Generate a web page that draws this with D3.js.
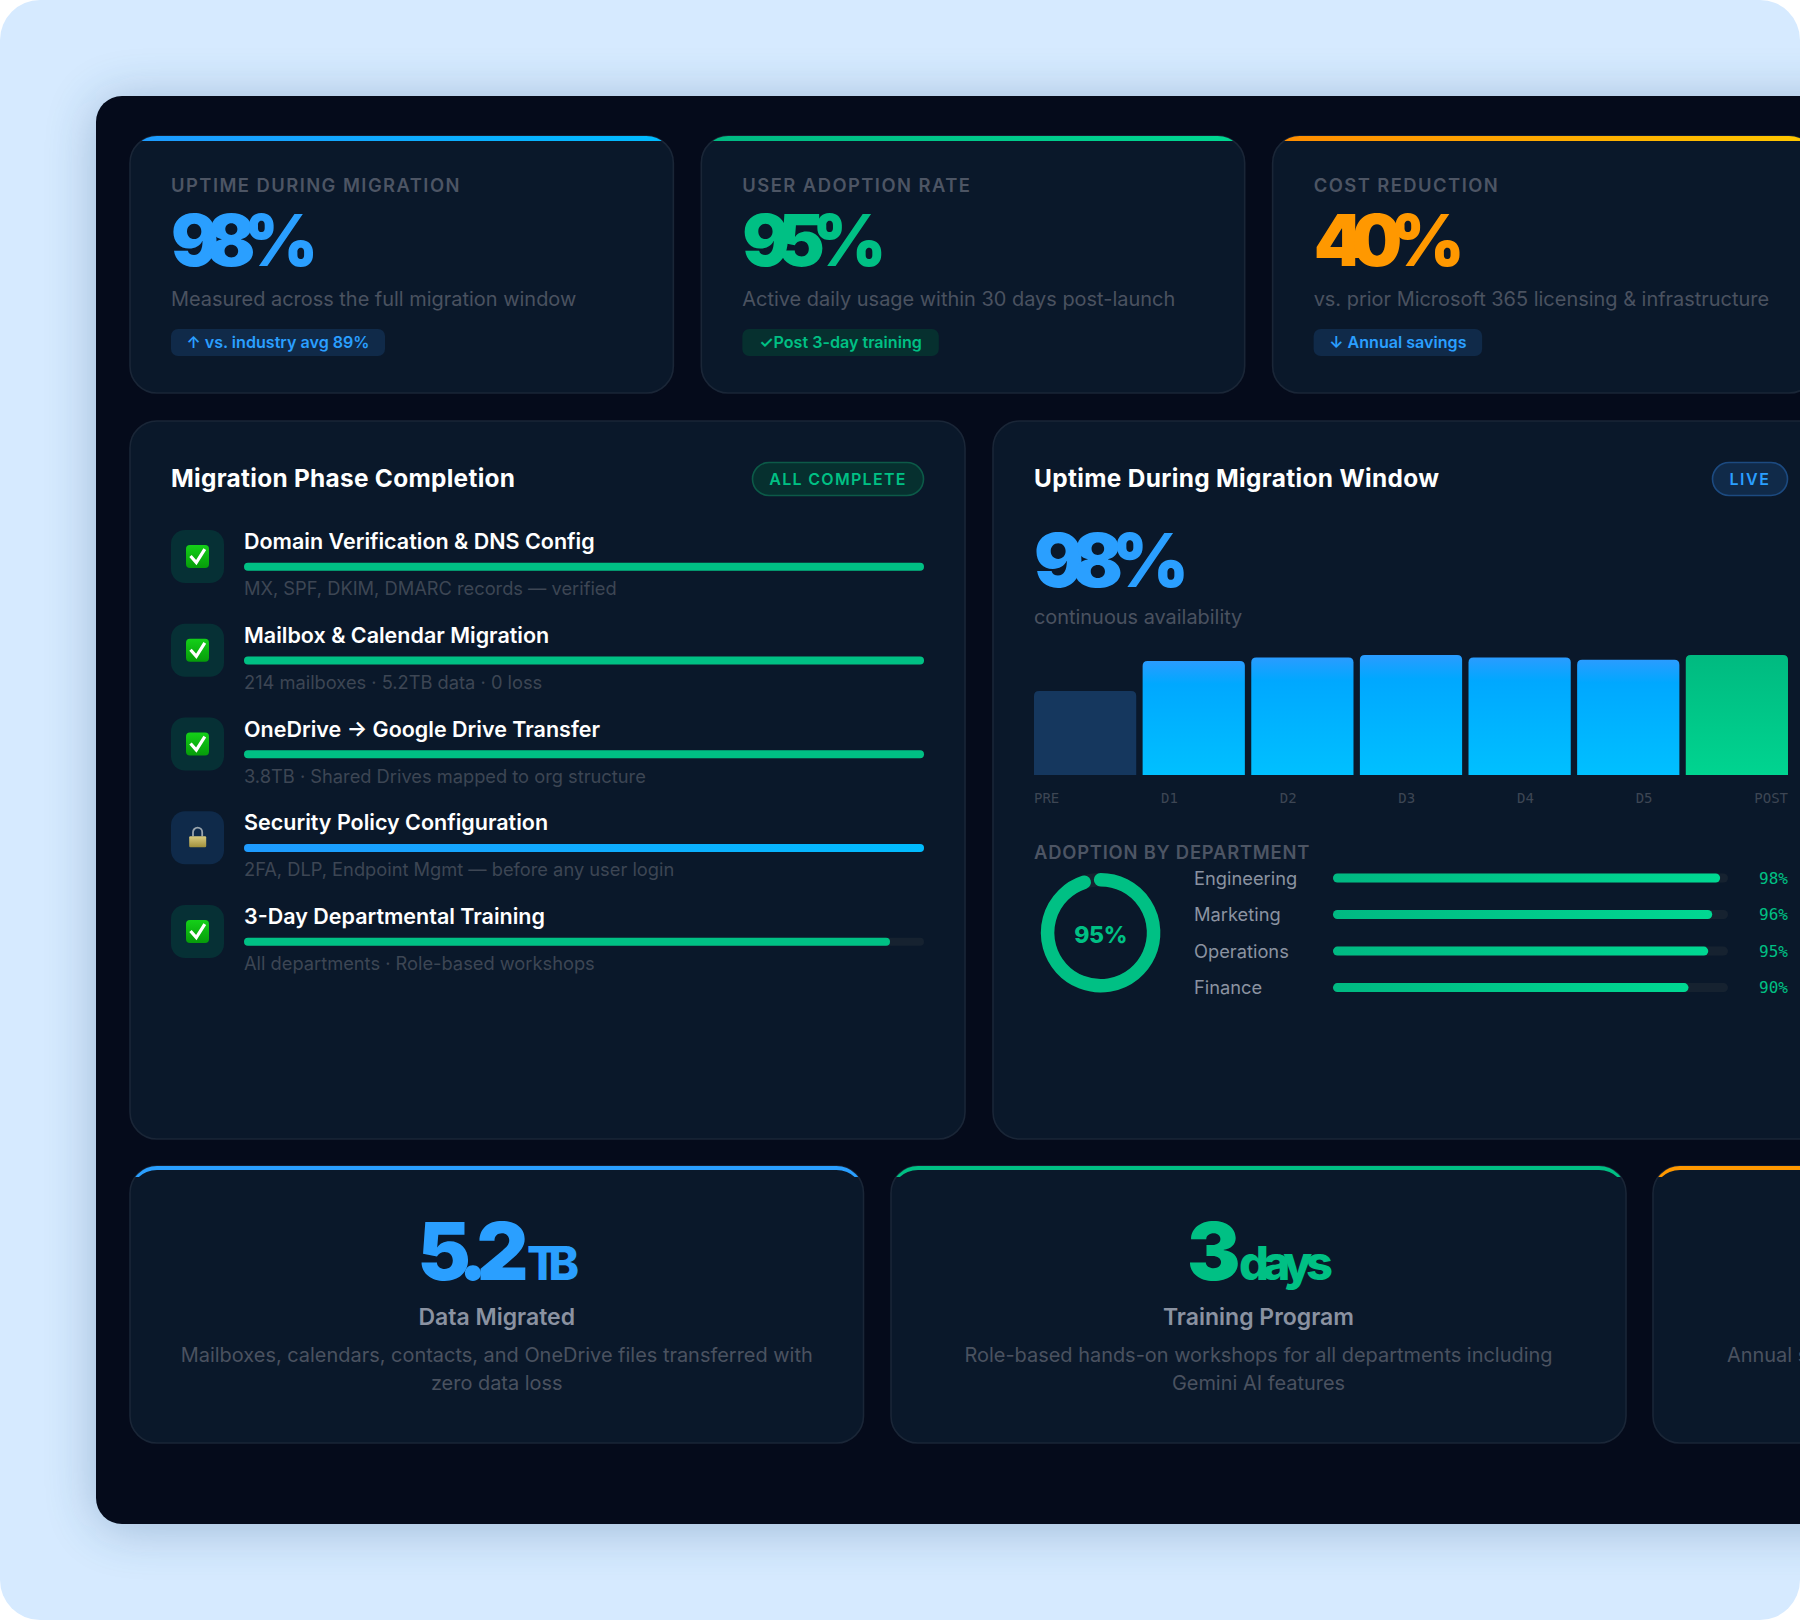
<!DOCTYPE html>
<html><head><meta charset="utf-8">
<script src="https://cdn.jsdelivr.net/npm/d3@7/dist/d3.min.js"></script>
<style>
html,body{margin:0;padding:0;background:#fff;overflow:hidden}
svg{display:block}
text{font-family:Inter,"Noto Sans",sans-serif}
</style></head><body>
<svg id="c" width="1800" height="1620" viewBox="0 0 1800 1620"></svg>
<script>
// ---- data ----
const kpiLabels = ["UPTIME DURING MIGRATION","USER ADOPTION RATE","COST REDUCTION"];
const kpiValues = ["98%","95%","40%"];
const kpiNotes = ["Measured across the full migration window","Active daily usage within 30 days post-launch","vs. prior Microsoft 365 licensing & infrastructure"];
const kpiBadges = ["↑ vs. industry avg 89%","✓Post 3-day training","↓ Annual savings"];
const phaseNames = ["Domain Verification & DNS Config","Mailbox & Calendar Migration","OneDrive → Google Drive Transfer","Security Policy Configuration","3-Day Departmental Training"];
const phaseNotes = ["MX, SPF, DKIM, DMARC records — verified","214 mailboxes · 5.2TB data · 0 loss","3.8TB · Shared Drives mapped to org structure","2FA, DLP, Endpoint Mgmt — before any user login","All departments · Role-based workshops"];
const phaseValues = [100,100,100,100,95];
const phaseKinds = ["done","done","done","lock","done"];
const uptimeDays = ["PRE","D1","D2","D3","D4","D5","POST"];
const uptimeValues = [70,95,98,100,98,96,100];
const uptimeKinds = ["pre","mid","mid","mid","mid","mid","post"];
const deptNames = ["Engineering","Marketing","Operations","Finance"];
const deptValues = [98,96,95,90];
const adoptionTotal = 95;
const statNumbers = ["5.2","3"];
const statUnits = ["TB","days"];
const statTitles = ["Data Migrated","Training Program"];
const statNotes = [["Mailboxes, calendars, contacts, and OneDrive files transferred with","zero data loss"],["Role-based hands-on workshops for all departments including","Gemini AI features"]];

// ---- palette ----
const BLUE="#2a9fff", GREEN="#00c084", ORANGE="#ff9800";
const CARD="#0a182a", EDGE="#1a2637", TRACK="#162230";
const LABEL="#4d5564", NOTE="#4a5260", FAINT="#3d4654";

const svg=d3.select("#c");
const defs=svg.append("defs");
function grad(id,x2,y2,stops){
  const g=defs.append("linearGradient").attr("id",id).attr("x1",0).attr("y1",0).attr("x2",x2).attr("y2",y2);
  stops.forEach(s=>g.append("stop").attr("offset",s[0]).attr("stop-color",s[1]));
}
grad("gBlueH",1,0,[[0,"#1e9bff"],[1,"#00bcff"]]);
grad("gGreenH",1,0,[[0,"#00b982"],[1,"#00d892"]]);
grad("gOrangeH",1,0,[[0,"#ff8c00"],[1,"#ffc800"]]);
grad("gBarMid",0,1,[[0,"#2a9cff"],[0.2,"#00a8ff"],[1,"#00c0ff"]]);
grad("gBarPost",0,1,[[0,"#00ba80"],[1,"#00d490"]]);
grad("gCheck",0,1,[[0,"#14d018"],[1,"#069c0a"]]);
grad("gLock",0,1,[[0,"#d9cc80"],[1,"#a0903c"]]);
const shadow=defs.append("filter").attr("id","dashShadow").attr("filterUnits","userSpaceOnUse")
  .attr("x",-100).attr("y",-100).attr("width",2100).attr("height",1900);
shadow.append("feGaussianBlur").attr("stdDeviation",26);

function T(g,str,x,y,o){
  const t=g.append("text").attr("x",x).attr("y",y).text(str)
    .attr("font-size",o.size).attr("font-weight",o.weight||400).attr("fill",o.fill)
    .attr("text-anchor",o.anchor||"start");
  if(o.ls!==undefined)t.attr("letter-spacing",o.ls);
  if(o.len){t.attr("textLength",o.len).attr("lengthAdjust","spacing");}
  if(o.family)t.style("font-family",o.family);
  return t;
}
function card(x,y,w,h,r){
  return svg.append("rect").attr("x",x).attr("y",y).attr("width",w).attr("height",h).attr("rx",r)
    .attr("fill",CARD).attr("stroke",EDGE).attr("stroke-width",1.6);
}

// page + dashboard
svg.append("rect").attr("width",1800).attr("height",1620).attr("rx",40).attr("fill","#d6eaff");
svg.append("rect").attr("x",96).attr("y",100).attr("width",1800).attr("height",1428).attr("rx",26)
  .attr("fill","#1c4a78").attr("opacity",.3).attr("filter","url(#dashShadow)");
svg.append("rect").attr("x",96).attr("y",96).attr("width",1800).attr("height",1428).attr("rx",26).attr("fill","#050b1b");

// ---- KPI row ----
const kpiX=d3.scaleBand().domain(d3.range(3)).range([130,1816]).paddingInner(28/572);
const kpiAccents=[{g:"url(#gBlueH)",c:BLUE},{g:"url(#gGreenH)",c:GREEN},{g:"url(#gOrangeH)",c:ORANGE}];
const kpiBadgeW=[214,196.5,168.5];
const kpiBigW=[147,144,151];
const kpiBadgeFill=["#102a49","#06302f","#102a49"];
const kpiBadgeText=[BLUE,GREEN,BLUE];
kpiLabels.forEach((lab,i)=>{
  const x=kpiX(i),w=kpiX.bandwidth(),y=136,h=257;
  const cid="clipK"+i;
  defs.append("clipPath").attr("id",cid).append("rect").attr("x",x).attr("y",y).attr("width",w).attr("height",h).attr("rx",27);
  card(x,y,w,h,27);
  const g=svg.append("g");
  g.append("rect").attr("x",x).attr("y",y).attr("width",w).attr("height",5).attr("fill",kpiAccents[i].g).attr("clip-path",`url(#${cid})`);
  T(g,lab,x+41,192,{size:18.4,weight:600,fill:LABEL,ls:1.45});
  T(g,kpiValues[i],x+41,266,{size:71,weight:900,fill:kpiAccents[i].c,len:kpiBigW[i]});
  T(g,kpiNotes[i],x+41,306,{size:19.95,fill:NOTE});
  g.append("rect").attr("x",x+41).attr("y",329).attr("width",kpiBadgeW[i]).attr("height",27).attr("rx",7).attr("fill",kpiBadgeFill[i]);
  T(g,kpiBadges[i],x+41+kpiBadgeW[i]/2,348,{size:16.1,weight:600,fill:kpiBadgeText[i],anchor:"middle"});
});

// ---- Migration phases ----
card(130,421,835,718,27);
T(svg,"Migration Phase Completion",171,487,{size:24.4,weight:700,fill:"#ffffff",len:344});
svg.append("rect").attr("x",752.5).attr("y",462.5).attr("width",171).attr("height",33).attr("rx",16.5)
  .attr("fill","#06302f").attr("stroke","#0c5a48").attr("stroke-width",1.6);
T(svg,"ALL COMPLETE",838,485,{size:16,weight:600,fill:GREEN,anchor:"middle",ls:1.3});

const phaseRow=d3.scaleBand().domain(d3.range(phaseNames.length)).range([530,530+93.75*5]);
const phaseW=d3.scaleLinear().domain([0,100]).range([0,680]);
const rows=svg.selectAll("g.phase").data(phaseNames).join("g").attr("class","phase")
  .attr("transform",(d,i)=>`translate(171,${phaseRow(i)})`);
rows.append("rect").attr("width",53).attr("height",53).attr("rx",14)
  .attr("fill",(d,i)=>phaseKinds[i]==="lock"?"#0f2a4a":"#063035");
rows.each(function(d,i){
  const r=d3.select(this);
  if(phaseKinds[i]==="done"){
    r.append("rect").attr("x",15).attr("y",15).attr("width",23).attr("height",23).attr("rx",4).attr("fill","url(#gCheck)");
    r.append("path").attr("d","M19.5 26 L25.3 32.6 L33.8 19.2").attr("fill","none").attr("stroke","#fff").attr("stroke-width",3.2).attr("stroke-linejoin","miter");
  } else {
    r.append("path").attr("d","M22 25 V21 a4.6 4.6 0 0 1 9.2 0 V25").attr("fill","none").attr("stroke","#9aa5ad").attr("stroke-width",1.8);
    r.append("rect").attr("x",18.2).attr("y",25).attr("width",17).attr("height",11).attr("rx",1.2).attr("fill","url(#gLock)");
  }
  T(r,d,73,19,{size:21.5,weight:600,fill:"#ffffff"});
  r.append("rect").attr("x",73).attr("y",32.8).attr("width",phaseW(100)).attr("height",8).attr("rx",4).attr("fill",TRACK);
  r.append("rect").attr("x",73).attr("y",32.8).attr("width",phaseW(phaseValues[i])).attr("height",8).attr("rx",4)
    .attr("fill",phaseKinds[i]==="lock"?"url(#gBlueH)":GREEN);
  T(r,phaseNotes[i],73,65,{size:18.28,fill:FAINT});
});

// ---- Uptime panel ----
card(993,421,880,718,27);
T(svg,"Uptime During Migration Window",1034,487,{size:24.4,weight:700,fill:"#ffffff",len:405});
svg.append("rect").attr("x",1712.5).attr("y",462.5).attr("width",75).attr("height",33).attr("rx",16.5)
  .attr("fill","#102a49").attr("stroke","#1c4a80").attr("stroke-width",1.6);
T(svg,"LIVE",1750,485,{size:16,weight:600,fill:BLUE,anchor:"middle",ls:1.6});
T(svg,"98%",1034,587,{size:74,weight:900,fill:BLUE,len:155});
T(svg,"continuous availability",1034,624,{size:19.9,fill:NOTE});

const barX=d3.scaleBand().domain(uptimeDays).range([1034,1788]).paddingInner(6.4/108.7);
const barY=d3.scaleLinear().domain([0,100]).range([775,655]);
const barFill={pre:"#15375e",mid:"url(#gBarMid)",post:"url(#gBarPost)"};
function topRound(x,y,w,b,r){return `M${x} ${b}V${y+r}Q${x} ${y} ${x+r} ${y}H${x+w-r}Q${x+w} ${y} ${x+w} ${y+r}V${b}Z`;}
svg.selectAll("path.ubar").data(uptimeValues).join("path").attr("class","ubar")
  .attr("d",(v,i)=>topRound(barX(uptimeDays[i]),barY(v),barX.bandwidth(),barY(0),5))
  .attr("fill",(v,i)=>barFill[uptimeKinds[i]]);
const MONO='"DejaVu Sans Mono",monospace';
const dayLabels=svg.selectAll("text.day").data(uptimeDays).join("text").attr("class","day")
  .attr("y",803).attr("font-size",14).attr("fill",FAINT).style("font-family",MONO).text(d=>d);
const dayW=dayLabels.nodes().map(n=>n.getComputedTextLength());
const dayGap=(754-d3.sum(dayW))/(uptimeDays.length-1);
dayLabels.attr("x",(d,i)=>1034+d3.sum(dayW.slice(0,i))+dayGap*i);

// ---- Adoption ----
T(svg,"ADOPTION BY DEPARTMENT",1034,859,{size:18.4,weight:600,fill:LABEL,ls:0.78});
const donut=svg.append("g").attr("transform","translate(1100.6,932.7)");
const donutAngle=d3.scaleLinear().domain([0,100]).range([-Math.PI/2,Math.PI*1.5]);
donut.append("circle").attr("r",53).attr("fill","none").attr("stroke",TRACK).attr("stroke-width",13.5);
const dp=d3.path();dp.arc(0,0,53,donutAngle(0),donutAngle(adoptionTotal));
donut.append("path").attr("d",dp.toString()).attr("fill","none").attr("stroke",GREEN).attr("stroke-width",13.5).attr("stroke-linecap","round");
T(donut,adoptionTotal+"%",0,10,{size:23,weight:800,fill:GREEN,anchor:"middle",ls:-0.4});

const deptY=d3.scalePoint().domain(deptNames).range([878,987.6]);
const deptW=d3.scaleLinear().domain([0,100]).range([0,395]);
deptNames.forEach((n,i)=>{
  const y=deptY(n);
  T(svg,n,1194,y+6.5,{size:18.3,fill:"#8b93a1"});
  svg.append("rect").attr("x",1333).attr("y",y-4.5).attr("width",deptW(100)).attr("height",9).attr("rx",4.5).attr("fill",TRACK);
  svg.append("rect").attr("x",1333).attr("y",y-4.5).attr("width",deptW(deptValues[i])).attr("height",9).attr("rx",4.5).attr("fill","url(#gGreenH)");
  T(svg,deptValues[i]+"%",1788,y+5.5,{size:16,weight:500,fill:GREEN,anchor:"end",family:MONO});
});

// ---- Bottom stat cards ----
function statCard(x,w,c){
  const y=1166,h=277,r=27;
  svg.append("rect").attr("x",x).attr("y",y).attr("width",w).attr("height",h).attr("rx",r).attr("fill",CARD).attr("stroke",EDGE).attr("stroke-width",1.6);
  const id="clipS"+x;
  defs.append("clipPath").attr("id",id).append("rect").attr("x",x).attr("y",y-1).attr("width",w).attr("height",12);
  const g=svg.append("g").attr("clip-path",`url(#${id})`);
  g.append("path").attr("fill",c).attr("fill-rule","evenodd")
    .attr("d",`M${x} ${y+r}a${r} ${r} 0 0 1 ${r} ${-r}H${x+w-r}a${r} ${r} 0 0 1 ${r} ${r}V${y+r+4}a${r} ${r} 0 0 0 ${-r} ${-r}H${x+r}a${r} ${r} 0 0 0 ${-r} ${r}Z`);
}
const statX=[130,891,1653],statW=[733.5,735,400],statC=[BLUE,GREEN,ORANGE];
statX.forEach((x,i)=>statCard(x,statW[i],statC[i]));
const bigSpec=[{x:417.5,w:111,ux:527,uw:52,us:46},{x:1187,w:46,ux:1239,uw:94,us:47}];
statNumbers.forEach((num,i)=>{
  const s=bigSpec[i],c=statC[i],cx=statX[i]+statW[i]/2;
  T(svg,num,s.x,1280,{size:80,weight:900,fill:c,len:s.w});
  T(svg,statUnits[i],s.ux,1280,{size:s.us,weight:800,fill:c,len:s.uw});
  T(svg,statTitles[i],cx,1325,{size:23,weight:600,fill:"#8a92a1",anchor:"middle"});
  statNotes[i].forEach((ln,j)=>T(svg,ln,cx,1361.5+j*28,{size:19.95,fill:NOTE,anchor:"middle"}));
});
T(svg,"Annual savings",1727,1361.5,{size:19.95,fill:NOTE});
</script></body></html>
